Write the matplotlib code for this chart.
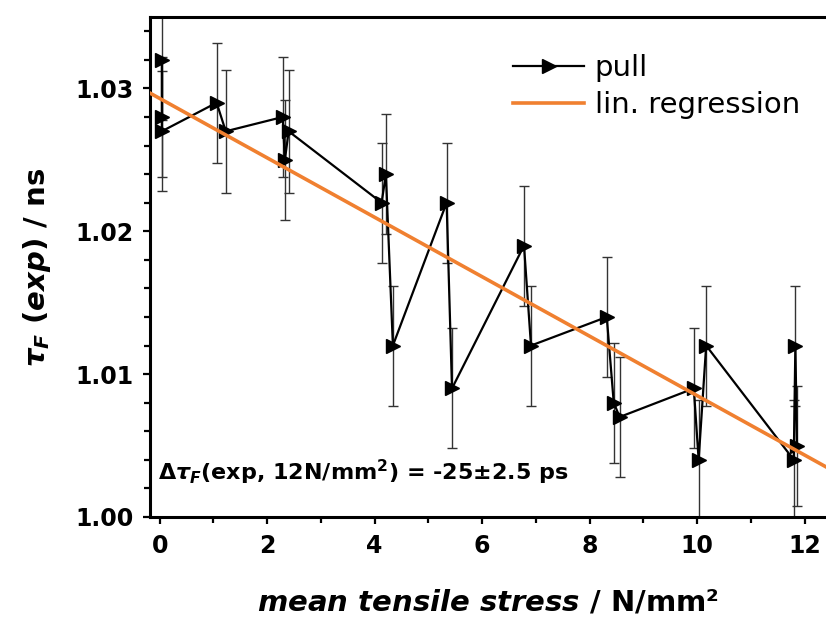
import numpy as np
import matplotlib
matplotlib.use("Agg")
import matplotlib.pyplot as plt
from matplotlib.ticker import MultipleLocator, FormatStrFormatter

# mean tensile stress (N/mm^2) and fluorescence lifetime (ns), in measurement order
stress = [0.04, 0.04, 0.04, 1.06, 1.23, 2.29, 2.33, 2.40, 4.13, 4.21, 4.34, 5.34,
          5.44, 6.78, 6.91, 8.32, 8.45, 8.56, 9.94, 10.03, 10.17, 11.80, 11.83, 11.86]
tau = [1.032, 1.028, 1.027, 1.029, 1.027, 1.028, 1.025, 1.027, 1.022, 1.024, 1.012, 1.022,
       1.009, 1.019, 1.012, 1.014, 1.008, 1.007, 1.009, 1.004, 1.012, 1.004, 1.012, 1.005]
tau_err = [0.0042, 0.0042, 0.0042, 0.0042, 0.0043, 0.0042, 0.0042, 0.0043, 0.0042, 0.0042, 0.0042, 0.0042,
           0.0042, 0.0042, 0.0042, 0.0042, 0.0042, 0.0042, 0.0042, 0.0042, 0.0042, 0.0042, 0.0042, 0.0042]

# linear regression
reg_intercept = 1.0293
reg_slope = -0.00208

plt.rcParams['font.family'] = 'DejaVu Sans'
plt.rcParams['mathtext.fontset'] = 'custom'
plt.rcParams['mathtext.rm'] = 'DejaVu Sans:bold'
plt.rcParams['mathtext.bf'] = 'DejaVu Sans:bold'
plt.rcParams['mathtext.it'] = 'DejaVu Sans:bold:italic'

fig = plt.figure(figsize=(8.26, 6.21), dpi=100)
ax = fig.add_axes([150/826, 104/621, 676/826, 500/621])

xlim = (-0.18, 12.4)
ax.errorbar(stress, tau, yerr=tau_err, fmt='none', ecolor='#333333',
            elinewidth=1.0, capsize=3.5, capthick=1.0, zorder=2)
ax.plot(stress, tau, color='black', lw=1.6, marker='>', ms=10.5,
        mfc='black', mec='black', label='pull', zorder=3)

xr = np.array(xlim)
ax.plot(xr, reg_intercept + reg_slope*xr, color='#F08030', lw=2.6,
        label='lin. regression', zorder=4)

ax.set_xlim(*xlim)
ax.set_ylim(1.0, 1.035)

ax.xaxis.set_major_locator(MultipleLocator(2))
ax.xaxis.set_minor_locator(MultipleLocator(1))
ax.yaxis.set_major_locator(MultipleLocator(0.01))
ax.yaxis.set_minor_locator(MultipleLocator(0.002))
ax.yaxis.set_major_formatter(FormatStrFormatter('%.2f'))

ax.tick_params(which='major', direction='out', length=5, width=1.6, labelsize=17, pad=7)
ax.tick_params(which='minor', direction='out', length=4, width=1.6)
ax.tick_params(top=False, right=False)
for lab in ax.get_xticklabels() + ax.get_yticklabels():
    lab.set_fontweight('bold')

for s in ['left', 'bottom', 'top']:
    ax.spines[s].set_linewidth(2.2)
ax.spines['right'].set_visible(False)

ax.set_xlabel(r'$mean\ tensile\ stress$ / N/mm²', fontsize=21, fontweight='bold', labelpad=22)
ax.set_ylabel(r'$\tau_F$ $(exp)$ / ns', fontsize=21, fontweight='bold', labelpad=16)

ax.text(0.012, 0.06, r'$\Delta\tau_F$(exp, 12N/mm$^2$) = -25$\pm$2.5 ps',
        transform=ax.transAxes, fontsize=16, fontweight='bold', va='bottom', ha='left')

leg = ax.legend(loc='upper left', bbox_to_anchor=(0.537, 0.925), frameon=False,
                fontsize=21, numpoints=1, handlelength=2.45, handletextpad=0.35,
                labelspacing=0.3, borderpad=0, borderaxespad=0)

fig.savefig('out.png', dpi=100)
